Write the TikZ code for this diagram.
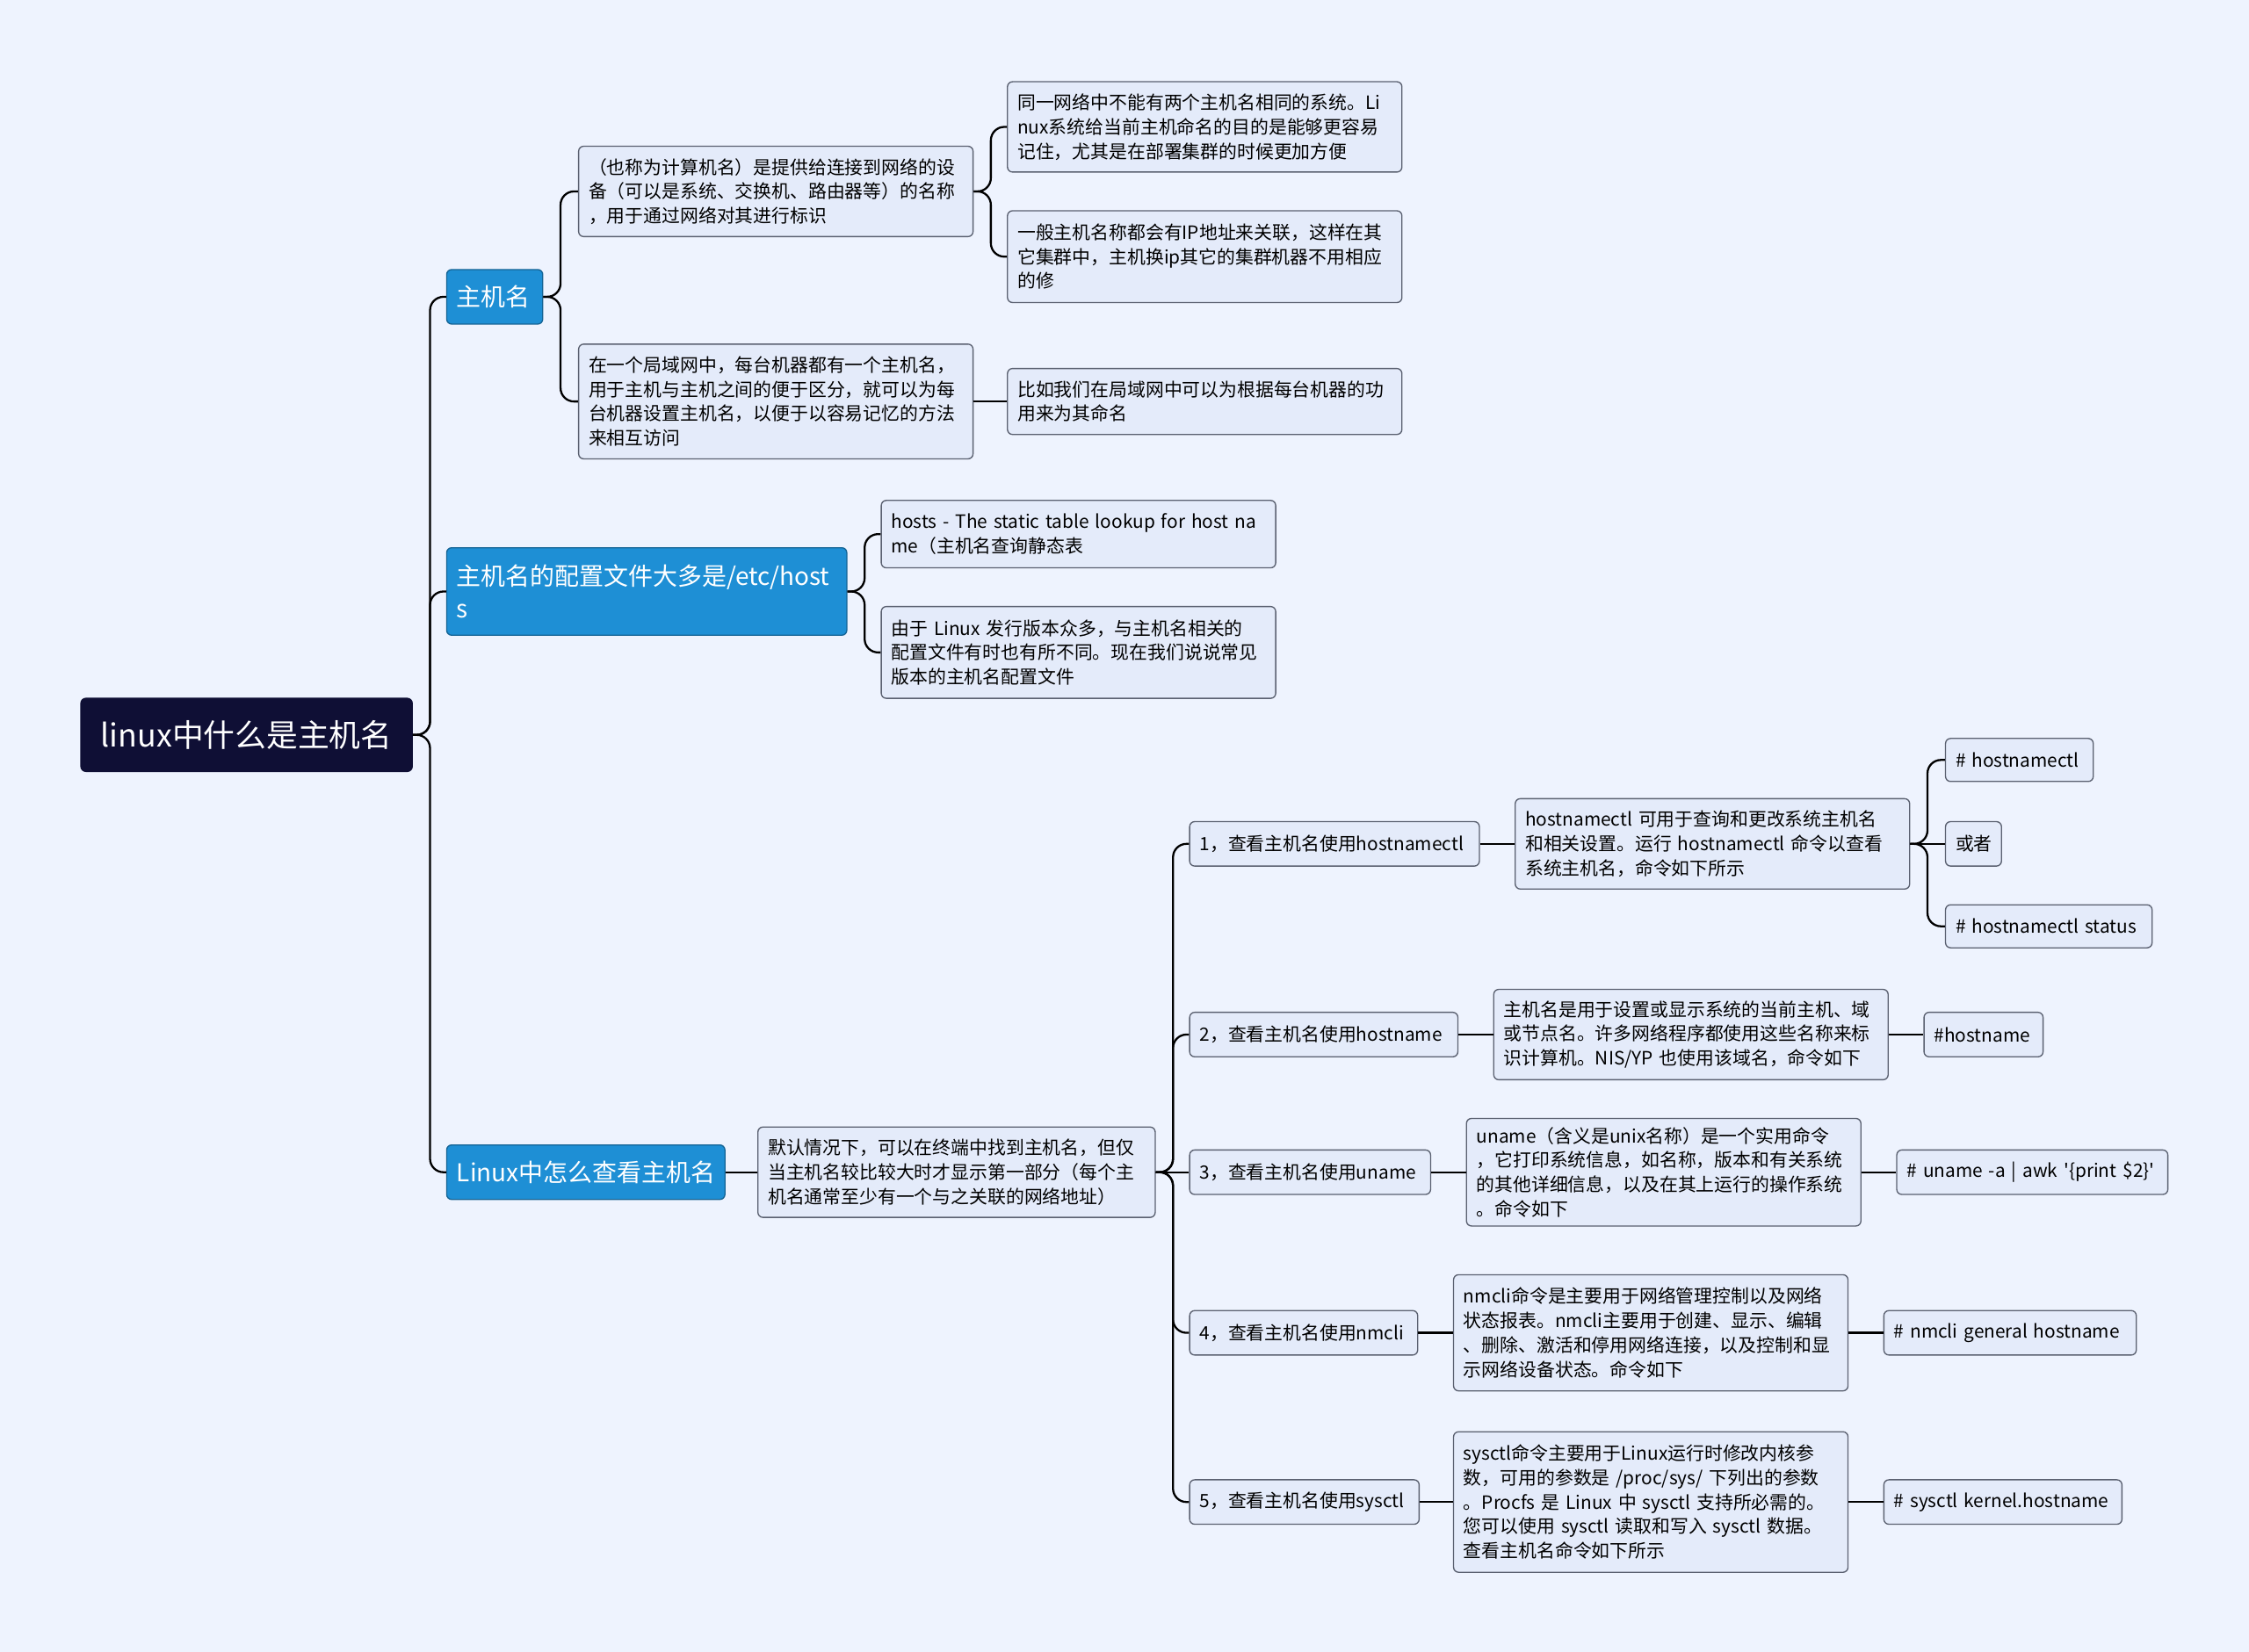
\documentclass[tikz,border=0pt]{standalone}
\usepackage{fontspec}
\setmainfont{Noto Sans CJK SC}
\usepackage{xcolor}
\definecolor{paper}{HTML}{EEF3FE}
\definecolor{boxfill}{HTML}{E4EBFA}
\definecolor{boxline}{HTML}{5A6070}
\definecolor{mainblue}{HTML}{1E8FD5}
\definecolor{rootnavy}{HTML}{0F0F35}
\newcommand{\pu}{0.03cm}

\tikzset{
  box/.style={draw=boxline, fill=boxfill, rounded corners=3pt, anchor=west,
    align=left, inner xsep=7*\pu, inner ysep=2*\pu, line width=0.7pt,
    font=\fontsize{10.9}{14.5}\selectfont},
  w/.code={\pgfmathsetlengthmacro\bw{(#1-14)*0.03cm}\tikzset{text width=\bw}},
  topic/.style={box, fill=mainblue, draw=mainblue!70!black, text=white,
    font=\fontsize{14.6}{19}\selectfont},
  root/.style={box, fill=rootnavy, draw=rootnavy, text=white, inner xsep=12*\pu,
    font=\fontsize{18.7}{22}\selectfont},
  link/.style={draw=black, line width=1.2pt, rounded corners=8pt},
}
\newcommand{\branch}[2]{\draw[link] (#1.east) -- ++(12*\pu,0) |- (#2.west);}
\newcommand{\straight}[2]{\draw[link] (#1.east) -- (#2.west);}

\begin{document}
\begin{tikzpicture}[x=0.03cm, y=-0.03cm]
    \fill[paper] (0,0) rectangle (1568,1152);
    \useasboundingbox (0,0) rectangle (1568,1152);

    % root and main topics
    \node[root, minimum width=231*\pu, minimum height=51*\pu] (root) at (56,512.5) {linux中什么是主机名};
    \node[topic, w=67, minimum height=38*\pu] (host) at (311,207) {主机名};
    \node[topic, w=279, minimum height=61*\pu] (conf) at (311,412.5) {主机名的配置文件大多是/etc/host\\s};
    \node[topic, w=194, minimum height=38*\pu] (view) at (311,817.5) {Linux中怎么查看主机名};

    % what a host name is
    \node[box, w=275, minimum height=63*\pu] (def) at (403,133.5) {（也称为计算机名）是提供给连接到网络的设\\备（可以是系统、交换机、路由器等）的名称\\，用于通过网络对其进行标识};
    \node[box, w=275, minimum height=80*\pu] (lan) at (403,280) {在一个局域网中，每台机器都有一个主机名，\\用于主机与主机之间的便于区分，就可以为每\\台机器设置主机名，以便于以容易记忆的方法\\来相互访问};
    \node[box, w=275, minimum height=63*\pu] (unique) at (702,88.5) {同一网络中不能有两个主机名相同的系统。Li\\nux系统给当前主机命名的目的是能够更容易\\记住，尤其是在部署集群的时候更加方便};
    \node[box, w=275, minimum height=64*\pu] (ipaddr) at (702,179) {一般主机名称都会有IP地址来关联，这样在其\\它集群中，主机换ip其它的集群机器不用相应\\的修};
    \node[box, w=275, minimum height=46*\pu] (naming) at (702,280) {比如我们在局域网中可以为根据每台机器的功\\用来为其命名};

    % config files
    \node[box, w=275, minimum height=47*\pu] (hosts) at (614,372.5) {hosts - The static table lookup for host na\\me（主机名查询静态表};
    \node[box, w=275, minimum height=64*\pu] (distro) at (614,455) {由于 Linux 发行版本众多，与主机名相关的\\配置文件有时也有所不同。现在我们说说常见\\版本的主机名配置文件};

    % how to view it
    \node[box, w=277, minimum height=63*\pu] (term) at (528,817.5) {默认情况下，可以在终端中找到主机名，但仅\\当主机名较比较大时才显示第一部分（每个主\\机名通常至少有一个与之关联的网络地址）};
    \node[box, w=202, minimum height=31*\pu] (m1) at (829,588.5) {1，查看主机名使用hostnamectl};
    \node[box, w=187, minimum height=31*\pu] (m2) at (829,721.5) {2，查看主机名使用hostname};
    \node[box, w=168, minimum height=31*\pu] (m3) at (829,817.5) {3，查看主机名使用uname};
    \node[box, w=159, minimum height=31*\pu] (m4) at (829,929.5) {4，查看主机名使用nmcli};
    \node[box, w=160, minimum height=31*\pu] (m5) at (829,1047.5) {5，查看主机名使用sysctl};

    \node[box, w=275, minimum height=63*\pu] (d1) at (1056,588.5) {hostnamectl 可用于查询和更改系统主机名\\和相关设置。运行 hostnamectl 命令以查看\\系统主机名，命令如下所示};
    \node[box, w=275, minimum height=63*\pu] (d2) at (1041,721.5) {主机名是用于设置或显示系统的当前主机、域\\或节点名。许多网络程序都使用这些名称来标\\识计算机。NIS/YP 也使用该域名，命令如下};
    \node[box, w=275, minimum height=75*\pu] (d3) at (1022,817.5) {uname（含义是unix名称）是一个实用命令\\，它打印系统信息，如名称，版本和有关系统\\的其他详细信息，以及在其上运行的操作系统\\。命令如下};
    \node[box, w=275, minimum height=81*\pu] (d4) at (1013,929.5) {nmcli命令是主要用于网络管理控制以及网络\\状态报表。nmcli主要用于创建、显示、编辑\\、删除、激活和停用网络连接，以及控制和显\\示网络设备状态。命令如下};
    \node[box, w=275, minimum height=98*\pu] (d5) at (1013,1047.5) {sysctl命令主要用于Linux运行时修改内核参\\数，可用的参数是 /proc/sys/ 下列出的参数\\。Procfs 是 Linux 中 sysctl 支持所必需的。\\您可以使用 sysctl 读取和写入 sysctl 数据。\\查看主机名命令如下所示};

    \node[box, w=103, minimum height=30*\pu] (c1a) at (1356,530) {\# hostnamectl};
    \node[box, w=39, minimum height=31*\pu] (c1b) at (1356,588.5) {或者};
    \node[box, w=144, minimum height=30*\pu] (c1c) at (1356,646) {\# hostnamectl status};
    \node[box, w=83, minimum height=31*\pu] (c2) at (1341,721.5) {\#hostname};
    \node[box, w=189, minimum height=31*\pu] (c3) at (1322,817.5) {\# uname -a | awk \textquotesingle\{print \$2\}\textquotesingle};
    \node[box, w=176, minimum height=31*\pu] (c4) at (1313,929.5) {\# nmcli general hostname};
    \node[box, w=166, minimum height=31*\pu] (c5) at (1313,1047.5) {\# sysctl kernel.hostname};

    % connectors
    \foreach \t in {host,conf,view} {\branch{root}{\t}}
    \foreach \t in {def,lan} {\branch{host}{\t}}
    \foreach \t in {unique,ipaddr} {\branch{def}{\t}}
    \straight{lan}{naming}
    \foreach \t in {hosts,distro} {\branch{conf}{\t}}
    \straight{view}{term}
    \foreach \t in {m1,m2,m4,m5} {\branch{term}{\t}}
    \straight{term}{m3}
    \foreach \i in {1,...,5} {\straight{m\i}{d\i}}
    \foreach \t in {c1a,c1c} {\branch{d1}{\t}}
    \straight{d1}{c1b}
    \foreach \i in {2,...,5} {\straight{d\i}{c\i}}
\end{tikzpicture}
\end{document}
